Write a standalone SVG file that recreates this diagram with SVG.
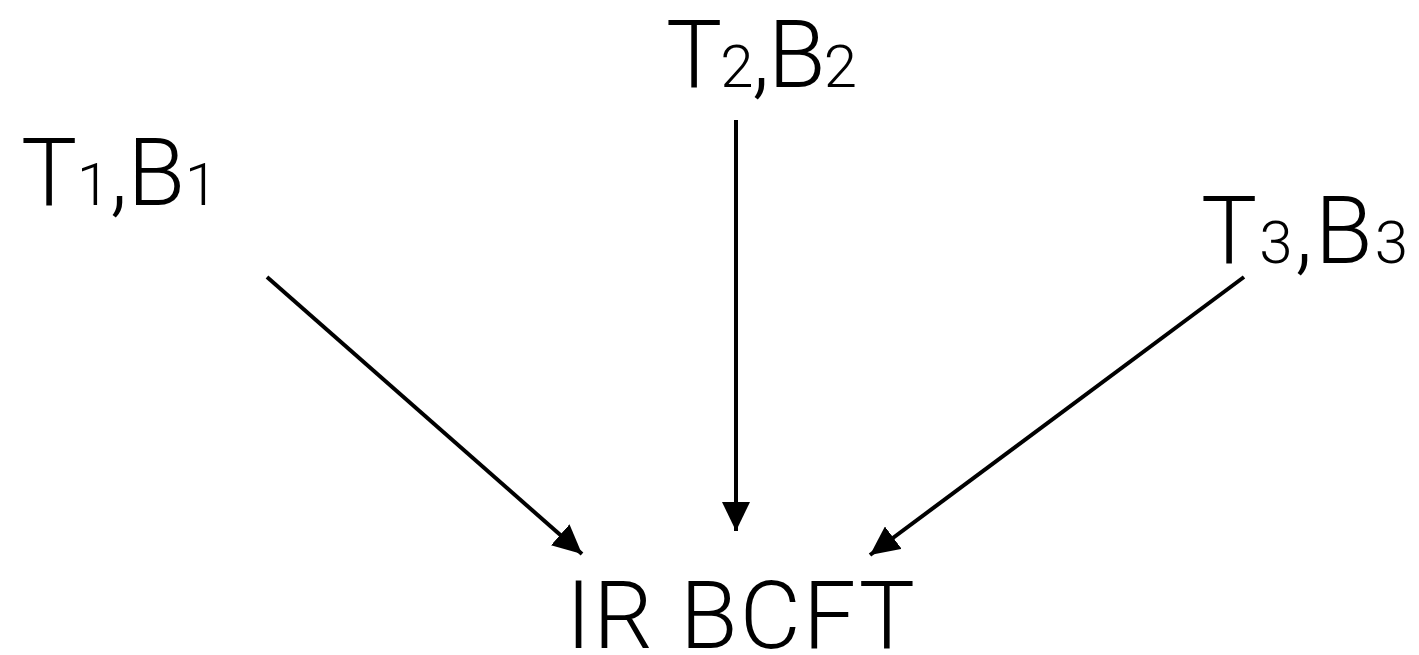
<svg xmlns="http://www.w3.org/2000/svg" width="1419" height="655" viewBox="0 0 1419 655">
<style>
.lbl{font-family:Roboto,"Liberation Sans",sans-serif;font-weight:300;font-size:94px;fill:#000}
.sub{font-size:60px}
.edge{stroke:#000;stroke-width:4;fill:none;marker-end:url(#ah)}
</style>
<defs>
<marker id="ah" markerUnits="userSpaceOnUse" markerWidth="30" markerHeight="28" refX="29" refY="14" orient="auto" viewBox="0 0 30 28">
<path d="M0,0 L29,14 L0,28 z" fill="#000"/>
</marker>
</defs>
<rect width="1419" height="655" fill="#fff"/>
<g id="n1"><text class="lbl" x="21" y="205" textLength="197" lengthAdjust="spacing">T<tspan class="sub">1</tspan>,B<tspan class="sub">1</tspan></text></g>
<g id="n2"><text class="lbl" x="666" y="87" textLength="191" lengthAdjust="spacing">T<tspan class="sub">2</tspan>,B<tspan class="sub">2</tspan></text></g>
<g id="n3"><text class="lbl" x="1201" y="263" textLength="207" lengthAdjust="spacing">T<tspan class="sub">3</tspan>,B<tspan class="sub">3</tspan></text></g>
<g id="n4"><text class="lbl" x="566" y="648" textLength="349" lengthAdjust="spacing">IR BCFT</text></g>
<g id="edges">
<line class="edge" x1="267" y1="277" x2="582" y2="554"/>
<line class="edge" x1="736" y1="120" x2="736" y2="531"/>
<line class="edge" x1="1244" y1="277" x2="870" y2="555"/>
</g>
</svg>
